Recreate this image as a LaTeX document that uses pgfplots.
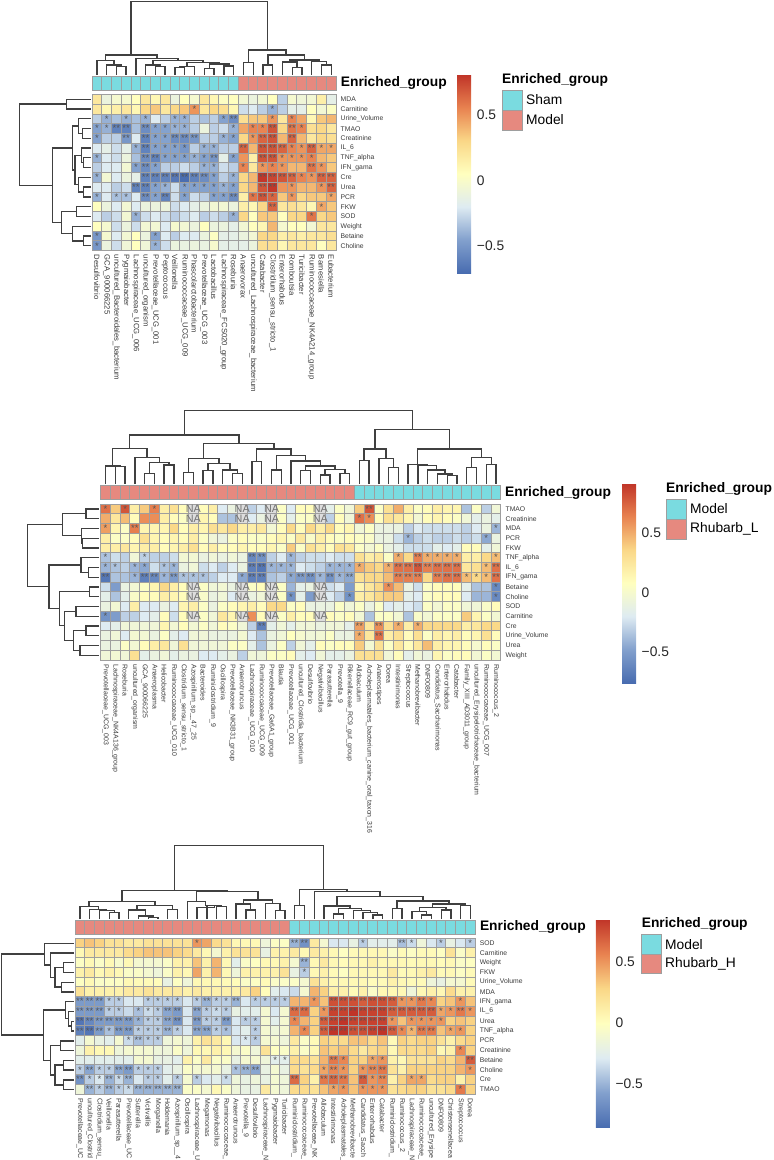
\documentclass[border=0pt]{standalone}
\usepackage{fontspec}
\setmainfont{Liberation Sans}
\usepackage{pgfplots}
\usepackage{pgfplotstable}
\pgfplotsset{compat=1.18}

\definecolor{cellgray}{HTML}{9E9E9E}
\definecolor{teal1}{HTML}{7ADBE0}
\definecolor{salmon1}{HTML}{E6897F}
\definecolor{nagray}{HTML}{DDDDDD}
\definecolor{dendcol}{HTML}{404040}
\definecolor{labcol}{HTML}{3A3A3A}
\definecolor{starcol}{HTML}{555555}

\pgfdeclareplotmark{cell}{\pgfpathrectangle{\pgfpoint{-4.88pt}{-4.88pt}}{\pgfpoint{9.76pt}{9.76pt}}\pgfusepathqfillstroke}
\pgfdeclareplotmark{annot}{\pgfpathrectangle{\pgfpoint{-4.88pt}{-7pt}}{\pgfpoint{9.76pt}{14pt}}\pgfusepathqfillstroke}

\pgfplotsset{
  colormap={rdylbu}{rgb255=(72,108,176) rgb255=(130,160,205) rgb255=(222,235,242)
    rgb255=(255,255,191) rgb255=(250,215,135) rgb255=(232,130,80) rgb255=(192,52,40)},
  heat/.style n args={4}{scale only axis, clip=false, at={(#1pt,-#2pt)}, anchor=north west,
    width=#3pt, height=156.2pt, xmin=-.5, xmax=#4, ymin=-.5, ymax=15.5, y dir=reverse,
    axis line style={draw=none}, major tick length=0pt, ytick={0,...,15}, yticklabel pos=right,
    x tick label style={rotate=-90, anchor=west, inner sep=0pt, text=labcol},
    y tick label style={anchor=west, inner sep=0pt, font=\fontsize{6.8}{7}\selectfont, text=labcol},
    xticklabel shift=4pt, yticklabel shift=4.5pt,
    point meta=explicit, colorbar},
  cb/.style n args={5}{point meta min=#1, point meta max=#2,
    colorbar style={at={(parent axis.north west)}, anchor=north west, xshift=#3pt, yshift=#4pt,
      scale only axis, width=14pt, height=#5pt, axis line style={draw=none}, major tick length=0pt,
      y dir=normal, ytick={-.5,0,.5}, yticklabels={−0.5,0,0.5}, yticklabel pos=right,
      yticklabel shift=5.5pt,
      y tick label style={anchor=west, inner sep=0pt, font=\fontsize{13.8}{14}\selectfont, text=black!85}}},
  cellplot/.style={scatter, only marks, mark=cell, scatter src=explicit,
    scatter/use mapped color={draw=cellgray, fill=mapped color}, mark options={line width=1pt}, forget plot},
  star1/.style={only marks, mark=text, text mark={*}, text mark as node=true,
    text mark style={font=\fontsize{9.5}{10}\selectfont, text=starcol, inner sep=0pt}, forget plot},
  star2/.style={only marks, mark=text, text mark={**}, text mark as node=true,
    text mark style={font=\fontsize{9.5}{10}\selectfont, text=starcol, inner sep=0pt}, forget plot},
  crop/.style 2 args={hide axis, scale only axis, clip=false, at={(#1pt,-#2pt)}, anchor=north west,
    width=600pt, height=300pt, xmin=0, xmax=1800, ymin=0, ymax=900, y dir=reverse},
  dend/.style={draw=dendcol, line width=1.05pt, no marks, sharp plot, forget plot},
}
\newcommand\cells[2]{\pgfplotsinvokeforeach{0,...,#2}{\addplot[cellplot] table[x expr=##1,y expr=\coordindex,meta index=##1]{#1};}}
\newcommand\annot[4]{\pgfplotsinvokeforeach{#1,...,#2}{\addplot[only marks,mark=annot,mark options={draw=cellgray,fill=#3,line width=1pt},forget plot] coordinates {(##1,#4)};}}
\newcommand\U[5]{\addplot[dend] coordinates {(#1,#2)(#1,#5)(#3,#5)(#3,#4)};}
\newcommand\R[5]{\addplot[dend] coordinates {(#2,#1)(#5,#1)(#5,#3)(#4,#3)};}

\pgfplotstableread[header=false]{
.2 -.1 -.03 -.03 .05 .2 .1 .2 -.1 .05 -.03 .2 .1 .03 .05 -.05 -.1 -.05 .05 -.3 -.03 -.07 -.05 .15 -.15
.2 .1 .15 .2 .1 .3 .35 .2 .3 .35 .5 .2 .3 .25 .1 -.25 -.2 -.3 -.4 -.3 -.15 -.15 .05 -.05 .03
-.3 -.4 -.35 -.4 -.35 -.4 -.2 -.3 -.4 -.4 -.3 -.35 -.3 -.45 -.55 .25 .35 .35 .5 .2 .55 .45 .1 .35 .4
-.45 -.4 -.6 -.6 -.35 -.55 -.45 -.45 -.4 -.4 -.3 -.1 -.3 -.25 -.4 .45 .55 .55 .7 .3 .6 .55 .25 .3 .2
-.45 -.3 -.3 -.5 -.2 -.6 -.45 -.45 -.55 -.55 -.5 -.3 -.3 -.4 -.45 .3 .5 .65 .7 .4 .65 .4 .2 .3 .25
-.2 -.15 -.25 -.15 -.4 -.6 -.45 -.45 -.45 -.5 -.3 -.4 -.4 -.3 -.3 .65 .4 .7 .7 .65 .55 .5 .65 .45 .45
-.4 -.2 -.25 -.1 -.35 -.55 -.6 -.45 -.45 -.45 -.4 -.45 -.5 -.15 -.45 .5 .15 .7 .7 .5 .5 .5 .55 .4 .35
-.3 -.2 -.2 -.05 -.45 -.55 -.45 -.3 -.3 -.25 -.3 -.4 -.4 -.25 -.3 .55 .2 .5 .55 .5 .4 .4 .6 .5 .35
-.4 -.05 -.2 -.1 -.15 -.6 -.6 -.6 -.65 -.7 -.6 -.55 -.45 -.3 -.4 .3 .4 .8 .75 .7 .65 .55 .5 .65 .65
-.2 -.2 -.3 -.25 -.6 -.6 -.45 -.4 -.25 -.45 -.45 -.45 -.45 -.4 -.45 .3 .4 .7 .8 .5 .5 .4 .4 .5 .65
-.4 -.2 -.35 -.35 -.2 -.55 -.45 -.6 -.25 -.45 -.25 -.3 -.45 -.45 -.55 .15 .6 .7 .65 .35 .5 .3 .35 .35 .45
.05 -.1 -.2 -.05 -.2 -.1 -.1 -.1 -.25 -.2 -.15 -.1 -.05 -.05 -.1 .15 .1 .3 .65 .2 .25 .2 .1 .45 .35
-.2 -.3 -.25 -.05 -.4 -.25 -.2 -.25 -.3 -.25 -.2 -.3 -.25 -.3 -.4 .3 .05 .35 .35 .05 .3 .3 .6 .3 .35
.05 -.03 -.25 -.1 -.25 -.05 -.05 -.2 -.02 -.05 -.1 .05 -.1 -.1 -.15 -.05 .05 .1 .4 -.03 .05 .05 -.05 .2 .2
-.5 -.03 -.2 -.05 .05 -.1 -.45 -.2 -.3 -.2 -.2 -.1 .03 -.15 -.15 -.1 -.05 .3 .3 .15 .2 .15 .2 .2 .25
-.5 -.1 -.25 -.07 .05 -.07 -.4 -.25 -.1 -.12 -.1 -.12 -.02 -.15 -.15 -.15 -.1 .25 .25 .1 .2 .2 .2 .05 .2
}\topdata

\pgfplotstableread[header=false]{
.7 .4 .8 .2 .4 .65 .2 .3 .1 nan .1 .2 -.2 -.1 nan -.3 -.2 nan .05 -.2 .1 .1 nan -.15 .05 -.05 .4 .8 .05 .3 .5 .2 .05 .1 .2 .15 .15 -.35 .05 -.3 -.05
.5 .25 .45 .1 .6 .6 .2 .1 .05 nan .15 .1 -.35 -.35 nan -.2 -.1 nan .05 -.15 .05 .05 nan -.3 .1 -.05 .7 .6 .1 .3 .25 .15 -.03 .1 .15 .1 .05 -.05 -.15 -.1 -.15
.55 .15 .05 .65 .15 .15 .15 .35 .1 .2 .15 .3 .25 .35 .2 .2 .25 -.03 .1 .35 .1 .35 .2 .35 .1 .15 -.05 .05 -.1 -.1 -.1 -.3 -.2 -.25 -.25 -.25 -.25 -.3 -.2 -.1 -.4
.2 .05 .05 .1 .3 .15 .1 .15 .1 .2 .05 -.05 -.1 .05 .1 .05 .05 .1 .15 .05 .25 .03 .2 .1 .05 .1 .05 .03 -.1 -.1 -.25 -.4 -.3 -.25 -.3 -.3 -.25 -.3 -.25 -.45 -.1
.2 .2 .25 .15 .2 .2 .1 .15 .2 .3 .1 .2 .1 .1 .15 .1 .1 .15 .05 .4 .05 .3 .2 .1 .3 .25 .05 -.03 .05 -.1 -.15 -.25 -.25 -.25 -.15 -.2 -.15 .1 .1 -.15 -.05
-.35 -.25 -.3 -.05 -.3 -.3 -.3 -.25 -.03 -.03 -.1 -.05 -.1 -.05 -.1 -.6 -.55 -.3 -.2 -.4 -.3 -.25 -.25 -.2 -.25 -.25 .3 .2 .25 .05 .5 .35 .65 .5 .5 .5 .5 .2 .2 .35 .45
-.4 -.35 -.3 -.4 -.45 -.25 -.35 -.4 -.1 -.05 -.25 -.2 -.3 -.2 -.1 -.65 -.7 -.4 -.4 -.4 -.2 -.25 -.3 -.4 -.4 -.4 .5 .4 .35 .5 .7 .7 .8 .65 .7 .7 .7 .25 .3 .45 .7
-.7 -.35 -.35 -.4 -.65 -.6 -.4 -.5 -.35 -.35 -.35 -.3 -.2 -.2 -.45 -.65 -.65 -.35 -.3 -.45 -.5 -.55 -.4 -.55 -.4 -.45 .3 .35 .35 .45 .65 .65 .65 .35 .65 .7 .7 .45 .35 .45 .7
-.25 -.5 -.1 -.03 .05 .15 .35 .2 .1 nan .05 -.05 -.03 -.1 nan .05 .1 nan .05 -.4 -.15 -.1 nan -.25 -.2 -.5 .15 .25 .35 .6 .45 -.1 -.25 .05 .1 .1 .1 -.15 -.35 -.35 -.6
-.15 -.35 -.15 .03 .1 .1 .2 .15 .1 nan .02 -.1 -.05 -.2 nan -.1 -.05 nan .05 -.55 -.15 -.5 nan -.2 -.3 -.55 .2 .25 .35 .4 .4 -.15 -.2 .05 .1 .1 .1 -.2 -.4 -.4 -.6
-.1 -.03 -.2 .2 -.2 -.2 -.1 -.2 .15 .2 .05 -.1 .05 .1 .15 .2 .1 .35 .35 .05 .1 -.1 -.1 -.1 .05 -.05 .05 -.1 .05 -.2 -.15 -.2 -.25 .05 -.03 .05 .05 -.05 -.05 .03 .1
-.55 -.5 -.3 -.3 -.2 -.15 .1 -.25 .1 nan .05 -.05 .25 .15 nan .6 .1 nan .05 .2 .1 .1 nan .1 .05 .1 -.03 -.35 .05 .05 -.03 -.35 .03 -.03 .05 .05 .05 .4 .15 .05 -.03
-.2 -.15 -.05 -.05 -.05 -.05 .15 -.03 .1 -.03 .05 -.05 .1 .05 -.05 -.3 -.65 -.15 -.05 -.15 -.05 -.05 -.1 -.05 -.05 -.15 .55 .25 .6 .3 .5 .2 .5 .35 .35 .35 .35 .2 .25 .35 .35
-.1 -.05 -.2 -.02 -.03 -.1 .05 -.15 -.2 -.05 -.05 -.1 -.1 -.1 -.02 -.2 -.35 -.1 -.05 .08 0 -.05 -.03 .05 -.1 -.1 .5 .25 .7 .2 .3 .1 .3 .05 .2 .15 .2 .1 .15 .3 .1
-.1 -.1 .05 -.03 .1 .2 .25 -.05 .3 -.05 -.05 -.05 -.05 .05 .05 -.15 -.35 -.1 .05 -.3 -.05 -.15 .1 .05 .1 .1 .4 -.02 .3 .05 .25 .1 .25 .45 .2 .15 .15 .1 0 .1 .05
-.05 -.03 -.05 .3 -.15 -.1 -.05 -.15 -.1 -.1 -.2 -.2 -.15 -.1 -.3 -.05 -.07 .05 .05 .1 -.15 -.2 -.05 -.15 -.15 -.1 .3 .3 .3 -.05 .1 -.15 -.05 -.1 .15 .05 .1 .1 -.03 .05 -.03
}\middata

\pgfplotstableread[header=false]{
.3 .35 .3 .2 .2 .15 .15 .2 .2 .2 .2 .2 .5 .45 .25 .2 .05 .05 .05 -.15 -.03 -.03 -.5 -.65 .15 -.1 -.3 -.3 -.2 -.4 -.25 -.25 -.25 -.45 -.35 -.15 -.3 -.4 -.2 -.3 -.4
.05 .15 .15 .15 .15 .25 .3 .35 .35 .35 .3 .25 .15 .05 -.1 .1 .2 .2 .2 -.2 .1 .1 .15 .05 .15 .1 .05 -.02 .03 .05 .05 .05 -.05 .03 -.03 .03 .03 -.02 .2 -.05 .1
-.03 .05 -.05 .05 -.08 .05 -.1 -.1 -.1 -.05 .1 .1 .35 .1 .4 .05 -.25 -.05 -.02 .05 .05 .1 -.1 -.5 .05 .15 .05 .02 .05 .05 .1 .05 .05 .05 .03 .05 .05 .02 .05 -.05 -.02
.1 .15 .05 .1 .05 -.05 -.05 -.1 -.15 -.05 .1 .05 .45 .1 .4 .05 -.15 .1 .1 .1 .1 .2 -.2 -.4 .05 .1 .03 -.02 .05 .05 .05 .05 .15 .03 .05 .1 .15 .03 .05 -.03 .03
-.02 .05 -.05 -.03 -.03 .05 .03 .03 .02 -.2 -.02 -.15 .05 .05 .05 .03 .02 -.05 -.03 .03 -.05 -.05 -.05 -.1 .2 .1 .05 .05 .05 .05 .02 .03 .1 .05 .03 .03 -.15 -.2 -.1 -.1 .03
.2 .1 .1 .1 .1 .15 .15 .2 .15 .15 .15 .1 .15 .1 .1 .1 .1 .15 .3 .02 -.25 -.3 -.35 -.1 .4 .3 .1 .1 .03 .1 -.05 .05 .05 .05 -.15 .05 .1 .05 .25 .1 .1
-.6 -.6 -.6 -.4 -.4 -.3 -.3 -.4 -.4 -.4 -.4 -.3 -.4 -.5 -.4 -.4 -.5 -.3 -.4 -.4 -.4 -.4 .4 .4 .5 .35 .75 .75 .75 .7 .75 .75 .7 .5 .5 .6 .55 .3 .35 .5 .35
-.6 -.6 -.6 -.4 -.4 -.35 -.45 -.35 -.4 -.55 -.6 -.3 -.55 -.4 -.35 -.4 -.2 -.25 -.25 -.1 -.3 -.1 .65 .65 .3 .5 .8 .8 .85 .8 .8 .8 .7 .7 .7 .7 .7 .45 .5 .6 .5
-.8 -.7 -.6 -.6 -.6 -.6 -.5 -.4 -.4 -.55 -.65 -.3 -.6 -.4 -.4 -.6 -.3 -.4 -.4 -.1 -.25 -.1 .55 .4 .3 .7 .8 .85 .8 .8 .8 .8 .5 .35 .5 .5 .5 .5 .3 .35 .3
-.75 -.8 -.6 -.45 -.6 -.6 -.4 -.4 -.4 -.5 -.4 -.3 -.55 -.55 -.4 -.45 -.3 -.25 -.4 -.1 -.15 -.1 .4 .55 .3 .7 .85 .85 .75 .75 .8 .85 .7 .55 .4 .6 .6 .35 .45 .5 .3
-.25 -.1 -.2 -.25 -.1 -.35 -.45 -.4 -.4 -.15 -.1 -.15 .1 .2 .15 .05 -.3 -.3 -.4 -.1 -.1 -.15 .15 -.05 .03 .3 .25 .25 .35 .35 .25 .35 .03 .3 .25 .3 .3 .2 .1 .25 .3
-.15 .1 .05 .05 -.15 -.1 -.1 -.1 -.15 -.15 -.05 -.15 .05 .05 .1 .05 -.1 -.05 -.15 .2 -.02 -.05 .1 -.05 .05 .35 .3 .35 .25 .15 .25 .3 .05 .25 .25 .25 .3 .05 .1 .55 .3
-.25 -.25 -.25 -.25 -.25 -.25 -.1 -.1 -.2 -.2 -.25 .1 -.05 .15 -.05 -.05 -.2 -.1 -.1 -.15 -.25 -.25 .25 .25 .2 .4 .6 .55 .3 .3 .45 .5 .1 .05 .2 .2 .2 .3 .25 .4 .7
-.4 -.55 -.4 -.4 -.55 -.6 -.4 -.4 -.4 -.25 -.2 -.05 -.1 -.1 -.1 -.2 -.45 -.5 -.55 -.2 -.1 -.2 .25 .2 .25 .45 .55 .5 .3 .5 .55 .6 .2 .1 .3 .3 .3 .3 .3 .4 .5
-.65 -.4 -.3 -.5 -.35 -.5 -.3 -.4 -.4 -.25 -.4 -.1 -.4 -.3 -.25 -.35 -.15 -.2 -.15 -.2 -.1 -.15 .65 .3 .1 .6 .65 .6 .35 .7 .5 .55 .1 .3 .45 .45 .25 .3 .3 .1 .3
-.15 -.5 -.4 -.5 -.4 -.35 -.5 -.5 -.5 -.5 -.5 -.05 -.05 -.1 .05 -.05 -.15 -.2 -.2 .15 -.1 -.15 .25 .25 .2 .35 .45 .5 .35 .5 .5 .5 .2 .25 .3 .3 .2 .2 .25 .6 .3
}\botdata

\newcommand\engroup{Enriched\_group}
\newcommand\bigb{\fontsize{13.8}{14}\bfseries\selectfont}
\newcommand\bign{\fontsize{13.8}{14}\selectfont}

\begin{document}
\begin{tikzpicture}
\path[use as bounding box] (0,0) rectangle (774pt,-1160pt);

% ---- top panel
\begin{axis}[heat={92}{94.5}{244}{24.5}, cb={-.71}{.81}{356.7}{19.8}{198.3},
  x tick label style={font=\fontsize{7.7}{8}\selectfont},
  xtick={0,...,24},
  xticklabels={Desulfovibrio,GCA\_900066225,uncultured\_Bacteroidales\_bacterium,Pygmaiobacter,Lachnospiraceae\_UCG\_006,uncultured\_organism,Prevotellaceae\_UCG\_001,Peptococcus,Veillonella,Ruminococcaceae\_UCG\_009,Phascolarctobacterium,Prevotellaceae\_UCG\_003,Lactobacillus,Lachnospiraceae\_FCS020\_group,Roseburia,Anaerovorax,uncultured\_Lachnospiraceae\_bacterium,Catabacter,Clostridium\_sensu\_stricto\_1,Enterorhabdus,Romboutsia,Turicibacter,Ruminococcaceae\_NK4A214\_group,Barnesiella,Eubacterium},
  yticklabels={MDA,Carnitine,Urine\_Volume,TMAO,Creatinine,IL\_6,TNF\_alpha,IFN\_gama,Cre,Urea,PCR,FKW,SOD,Weight,Betaine,Choline}]
\annot{0}{14}{teal1}{-1.65}
\annot{15}{24}{salmon1}{-1.65}
\cells{\topdata}{24}
\addplot[star1] coordinates {(10,1)(18,1)(1,2)(3,2)(5,2)(8,2)(9,2)(13,2)(18,2)(20,2)
 (0,3)(1,3)(6,3)(7,3)(8,3)(9,3)(14,3)(16,3)(17,3)(21,3)
 (0,4)(6,4)(7,4)(13,4)(14,4)(16,4)
 (4,5)(6,5)(7,5)(8,5)(9,5)(11,5)(12,5)(20,5)(21,5)(23,5)(24,5)
 (0,6)(7,6)(8,6)(9,6)(10,6)(11,6)(14,6)(19,6)(20,6)(21,6)(22,6)
 (4,7)(6,7)(11,7)(12,7)(15,7)(17,7)(18,7)(19,7)(23,7)
 (0,8)(12,8)(14,8)(21,8)(22,8)
 (6,9)(7,9)(9,9)(10,9)(11,9)(12,9)(13,9)(14,9)(20,9)(23,9)
 (0,10)(2,10)(3,10)(6,10)(9,10)(12,10)(13,10)(16,10)(18,10)(20,10)(24,10)
 (23,11)(4,12)(14,12)(22,12)(0,14)(6,14)(0,15)(6,15)};
\addplot[star2] coordinates {(14,2)(2,3)(3,3)(5,3)(18,3)(20,3)
 (3,4)(5,4)(8,4)(9,4)(10,4)(17,4)(18,4)(20,4)
 (5,5)(15,5)(17,5)(18,5)(19,5)(22,5)
 (5,6)(6,6)(12,6)(17,6)(18,6)(5,7)(22,7)
 (5,8)(6,8)(7,8)(8,8)(9,8)(10,8)(11,8)(17,8)(18,8)(19,8)(20,8)(23,8)(24,8)
 (4,9)(5,9)(17,9)(18,9)(24,9)(5,10)(7,10)(14,10)(17,10)(18,11)};
\end{axis}

\begin{axis}[crop={0}{0}]
\U{393}{165}{802}{150}{5}
\U{349}{224}{378}{224}{200}\U{320}{224}{364}{200}{195}\U{291}{224}{342}{195}{182}
\U{466}{224}{495}{224}{200}\U{437}{224}{481}{200}{195}
\U{525}{224}{554}{224}{203}\U{540}{203}{583}{224}{200}
\U{613}{224}{642}{224}{205}\U{672}{224}{701}{224}{198}\U{628}{205}{687}{198}{192}
\U{561}{200}{657}{192}{187}\U{459}{195}{609}{187}{182}\U{408}{224}{534}{182}{175}\U{316}{182}{471}{175}{165}
\U{730}{224}{760}{224}{188}\U{789}{224}{818}{224}{195}
\U{877}{224}{906}{224}{202}\U{848}{224}{891}{202}{186}
\U{965}{224}{994}{224}{195}\U{935}{224}{980}{195}{185}
\U{870}{186}{957}{185}{180}\U{804}{195}{913}{180}{165}\U{745}{188}{858}{165}{150}
\R{298}{273}{327}{273}{200}
\R{386}{273}{415}{273}{247}\R{356}{273}{400}{247}{235}
\R{473}{273}{503}{273}{250}\R{444}{273}{488}{250}{245}
\R{561}{273}{591}{273}{250}\R{532}{273}{576}{250}{235}
\R{466}{245}{554}{235}{225}\R{378}{235}{510}{225}{218}
\R{620}{273}{649}{273}{230}\R{708}{273}{737}{273}{250}\R{679}{273}{723}{250}{218}
\R{635}{230}{701}{218}{185}\R{444}{218}{668}{185}{157}\R{312}{200}{556}{157}{58}
\end{axis}
\node[anchor=west,font=\bigb,inner sep=0pt] at (340.7pt,-83.3pt) {\engroup};
\node[anchor=west,font=\bigb,inner sep=0pt] at (502pt,-80pt) {\engroup};
\draw[cellgray,line width=1pt,fill=teal1] (502pt,-90pt) rectangle (522pt,-110pt);
\draw[cellgray,line width=1pt,fill=salmon1] (502pt,-110pt) rectangle (522pt,-130pt);
\node[anchor=west,font=\bign,inner sep=0pt] at (526pt,-100pt) {Sham};
\node[anchor=west,font=\bign,inner sep=0pt] at (526pt,-120pt) {Model};

% ---- middle panel
\begin{axis}[heat={100.7}{504}{400.2}{40.5}, cb={-.76}{.92}{512.8}{20.7}{199.7},
  x tick label style={font=\fontsize{6.95}{7}\selectfont},
  xtick={0,...,40},
  xticklabels={Prevotellaceae\_UCG\_003,Lachnospiraceae\_NK4A136\_group,Roseburia,uncultured\_organism,GCA\_900066225,Anaeroplasma,Helicobacter,Ruminococcaceae\_UCG\_010,Clostridium\_sensu\_stricto\_1,Azospirillum\_sp\_\_47\_25,Bacteroides,Ruminiclostridium\_9,Oscillospira,Prevotellaceae\_NK3B31\_group,Anaerotruncus,Lachnospiraceae\_UCG\_010,Ruminococcaceae\_UCG\_009,Prevotellaceae\_Ga6A1\_group,Blautia,Prevotellaceae\_UCG\_001,uncultured\_Clostridia\_bacterium,Desulfovibrio,Negativibacillus,Parasutterella,Prevotella\_9,Rikenellaceae\_RC9\_gut\_group,Allobaculum,Acholeplasmatales\_bacterium\_canine\_oral\_taxon\_316,Anaerostipes,Dorea,Intestinimonas,Streptococcus,Methanobrevibacter,DNF00809,Candidatus\_Saccharimonas,Enterorhabdus,Catabacter,Family\_XIII\_AD3011\_group,uncultured\_Erysipelotrichaceae\_bacterium,Ruminococcaceae\_UCG\_007,Ruminococcus\_2},
  yticklabels={TMAO,Creatinine,MDA,PCR,FKW,TNF\_alpha,IL\_6,IFN\_gama,Betaine,Choline,SOD,Carnitine,Cre,Urine\_Volume,Urea,Weight}]
\annot{0}{25}{salmon1}{-1.71}
\annot{26}{40}{teal1}{-1.71}
\cells{\middata}{40}
\addplot[only marks,mark=cell,mark options={draw=cellgray,fill=nagray,line width=1pt},forget plot] coordinates {
 (9,0)(14,0)(17,0)(22,0)(9,1)(14,1)(17,1)(22,1)(9,8)(14,8)(17,8)(22,8)(9,9)(14,9)(17,9)(22,9)(9,11)(14,11)(17,11)(22,11)};
\addplot[only marks,mark=text,text mark={NA},text mark as node=true,
  text mark style={font=\fontsize{10.8}{11}\selectfont,text=black!55,inner sep=0pt},forget plot] coordinates {
 (9,0)(14,0)(17,0)(22,0)(9,1)(14,1)(17,1)(22,1)(9,8)(14,8)(17,8)(22,8)(9,9)(14,9)(17,9)(22,9)(9,11)(14,11)(17,11)(22,11)};
\addplot[star1] coordinates {(0,0)(2,0)(5,0)(26,1)(27,1)(0,2)(40,2)(31,3)(39,3)
 (0,5)(4,5)(19,5)(30,5)(33,5)(34,5)(35,5)(36,5)(40,5)
 (0,6)(1,6)(3,6)(4,6)(6,6)(7,6)(17,6)(18,6)(19,6)(23,6)(24,6)(25,6)(26,6)(29,6)(39,6)
 (3,7)(6,7)(8,7)(9,7)(10,7)(14,7)(19,7)(22,7)(24,7)(37,7)(38,7)(39,7)
 (29,8)(40,8)(19,9)(25,9)(40,9)(0,11)(30,12)(32,12)(26,13)};
\addplot[star2] coordinates {(27,0)(3,2)(15,5)(16,5)(32,5)
 (15,6)(16,6)(30,6)(31,6)(32,6)(33,6)(34,6)(35,6)(36,6)(40,6)
 (0,7)(4,7)(5,7)(7,7)(15,7)(16,7)(20,7)(21,7)(23,7)(25,7)(30,7)(31,7)(32,7)(34,7)(35,7)(36,7)(40,7)
 (16,12)(26,12)(28,12)(28,13)};
\end{axis}

\begin{axis}[crop={0}{405}]
\U{553}{90}{1237}{73}{17}
\U{346}{237}{375}{237}{185}\U{317}{237}{360}{185}{183}
\U{434}{237}{463}{237}{205}\U{492}{237}{522}{237}{180}\U{449}{205}{507}{180}{173}\U{405}{237}{478}{173}{158}
\U{338}{183}{441}{158}{130}
\U{551}{237}{580}{237}{203}\U{609}{237}{639}{237}{197}\U{697}{237}{727}{237}{205}\U{668}{237}{712}{205}{195}
\U{624}{197}{690}{195}{175}\U{565}{203}{657}{175}{160}
\U{756}{237}{785}{237}{170}\U{814}{237}{844}{237}{195}\U{902}{237}{932}{237}{197}
\U{961}{237}{990}{237}{210}\U{1020}{237}{1049}{237}{205}\U{975}{210}{1035}{205}{193}\U{917}{197}{1005}{193}{183}
\U{873}{237}{961}{183}{168}\U{829}{195}{917}{168}{152}\U{770}{170}{873}{152}{132}\U{611}{160}{822}{132}{115}\U{389}{130}{717}{115}{90}
\U{1078}{237}{1107}{237}{167}\U{1166}{237}{1195}{237}{187}\U{1137}{237}{1180}{187}{160}\U{1092}{167}{1158}{160}{132}
\U{1342}{237}{1371}{237}{212}\U{1312}{237}{1357}{212}{207}\U{1283}{237}{1335}{207}{195}\U{1254}{237}{1309}{195}{182}\U{1224}{237}{1281}{182}{178}
\U{1400}{237}{1430}{237}{188}\U{1459}{237}{1488}{237}{178}\U{1415}{188}{1474}{178}{158}
\U{1252}{178}{1445}{158}{132}\U{1125}{132}{1348}{132}{73}
\R{312}{297}{341}{297}{258}\R{400}{297}{429}{297}{248}\R{370}{297}{414}{248}{245}\R{326}{258}{392}{245}{188}
\R{487}{297}{517}{297}{266}\R{458}{297}{502}{266}{243}
\R{546}{297}{575}{297}{268}\R{605}{297}{634}{297}{228}\R{663}{297}{692}{297}{258}\R{722}{297}{751}{297}{240}
\R{677}{258}{736}{240}{221}\R{619}{228}{706}{221}{193}\R{560}{268}{662}{193}{178}\R{480}{243}{611}{178}{147}\R{359}{188}{545}{147}{83}
\end{axis}
\node[anchor=west,font=\bigb,inner sep=0pt] at (505pt,-492.5pt) {\engroup};
\node[anchor=west,font=\bigb,inner sep=0pt] at (666pt,-489.3pt) {\engroup};
\draw[cellgray,line width=1pt,fill=teal1] (666pt,-499pt) rectangle (686pt,-519pt);
\draw[cellgray,line width=1pt,fill=salmon1] (666pt,-519pt) rectangle (686pt,-539pt);
\node[anchor=west,font=\bign,inner sep=0pt] at (690pt,-509pt) {Model};
\node[anchor=west,font=\bign,inner sep=0pt] at (690pt,-529pt) {Rhubarb\_L};

% ---- bottom panel
\begin{axis}[heat={75}{938}{400.2}{40.5}, cb={-.857}{.85}{512.4}{19}{208.7},
  x tick label style={font=\fontsize{7}{7}\selectfont},
  xtick={0,...,40},
  xticklabels={Prevotellaceae\_UC,uncultured\_Clostrid,Clostridium\_sensu\_,Veillonella,Parasutterella,Prevotellaceae\_UC,Sutterella,Victivallis,Morganella,Holdemania,Azospirillum\_sp\_\_4,Oscillospira,Lachnospiraceae\_U,Megamonas,Negativibacillus,Ruminococcaceae\_,Anaerotruncus,Prevotella\_9,Desulfovibrio,Lachnospiraceae\_N,Pygmaiobacter,Turicibacter,Ruminiclostridium\_,Ruminococcaceae\_,Prevotellaceae\_NK,Allobaculum,Intestinimonas,Acholeplasmatales\_,Methanobrevibacte,Candidatus\_Sacch,Enterorhabdus,Catabacter,Ruminiclostridium\_,Ruminococcus\_2,Lachnospiraceae\_N,Ruminococcaceae\_,uncultured\_Erysipe,DNF00809,Christensenellacea,Streptococcus,Dorea},
  yticklabels={SOD,Carnitine,Weight,FKW,Urine\_Volume,MDA,IFN\_gama,IL\_6,Urea,TNF\_alpha,PCR,Creatinine,Betaine,Choline,Cre,TMAO}]
\annot{0}{21}{salmon1}{-1.6}
\annot{22}{40}{teal1}{-1.6}
\cells{\botdata}{40}
\addplot[star1] coordinates {(12,0)(29,0)(34,0)(37,0)(40,0)(23,3)
 (3,6)(4,6)(7,6)(8,6)(9,6)(10,6)(12,6)(14,6)(15,6)(18,6)(19,6)(20,6)(21,6)(24,6)(33,6)(34,6)(36,6)(39,6)
 (3,7)(4,7)(6,7)(7,7)(8,7)(13,7)(14,7)(15,7)(25,7)(37,7)(38,7)(40,7)
 (6,8)(7,8)(8,8)(13,8)(14,8)(17,8)(18,8)(22,8)(32,8)(34,8)(35,8)(36,8)(37,8)
 (3,9)(6,9)(7,9)(8,9)(10,9)(14,9)(15,9)(18,9)(23,9)(33,9)(34,9)(38,9)(39,9)
 (5,10)(7,10)(8,10)(17,10)(18,10)(39,11)
 (20,12)(21,12)(27,12)(30,12)(31,12)
 (0,13)(2,13)(3,13)(6,13)(7,13)(8,13)(16,13)(25,13)(27,13)(29,13)(40,13)
 (1,14)(2,14)(4,14)(7,14)(8,14)(10,14)(12,14)(15,14)(30,14)(34,14)(35,14)
 (2,15)(4,15)(5,15)(26,15)(27,15)(29,15)(30,15)(31,15)(39,15)};
\addplot[star2] coordinates {(22,0)(23,0)(33,0)(23,2)
 (0,6)(1,6)(2,6)(13,6)(16,6)(26,6)(27,6)(28,6)(29,6)(30,6)(31,6)(32,6)(35,6)
 (0,7)(1,7)(2,7)(9,7)(10,7)(12,7)(22,7)(23,7)(26,7)(27,7)(28,7)(29,7)(30,7)(31,7)(32,7)(33,7)(34,7)(35,7)(36,7)(39,7)
 (0,8)(1,8)(2,8)(3,8)(4,8)(5,8)(9,8)(10,8)(12,8)(15,8)(25,8)(26,8)(27,8)(28,8)(29,8)(30,8)(31,8)
 (0,9)(1,9)(2,9)(4,9)(5,9)(9,9)(12,9)(13,9)(25,9)(26,9)(27,9)(28,9)(29,9)(30,9)(31,9)(32,9)(35,9)(36,9)
 (6,10)(26,12)(40,12)
 (1,13)(4,13)(5,13)(17,13)(18,13)(26,13)(30,13)(31,13)
 (0,14)(3,14)(5,14)(22,14)(25,14)(26,14)(27,14)(29,14)(31,14)
 (1,15)(3,15)(6,15)(7,15)(8,15)(9,15)(10,15)};
\end{axis}

\begin{axis}[crop={0}{840}]
\U{524}{152}{970}{148}{17}
\U{328}{237}{357}{237}{218}\U{298}{237}{343}{218}{212}\U{269}{237}{320}{212}{208}\U{240}{237}{295}{208}{200}
\U{445}{237}{474}{237}{233}\U{415}{237}{459}{233}{228}\U{386}{237}{437}{228}{210}\U{503}{237}{533}{237}{208}\U{411}{210}{518}{208}{197}\U{267}{200}{465}{197}{185}
\U{650}{237}{679}{237}{200}\U{621}{237}{665}{200}{197}\U{591}{237}{643}{197}{202}\U{562}{237}{617}{197}{185}
\U{738}{237}{767}{237}{210}\U{708}{237}{752}{210}{192}\U{826}{237}{855}{237}{212}\U{796}{237}{840}{212}{190}
\U{730}{192}{818}{190}{180}\U{590}{185}{774}{180}{155}\U{366}{185}{682}{155}{152}
\U{884}{237}{914}{237}{197}
\U{1001}{237}{1031}{237}{222}\U{1119}{237}{1148}{237}{225}\U{1089}{237}{1133}{225}{218}\U{1060}{237}{1111}{218}{212}\U{1016}{222}{1085}{212}{205}\U{972}{237}{1050}{205}{198}
\U{1177}{237}{1206}{237}{205}\U{1265}{237}{1294}{237}{225}\U{1236}{237}{1280}{225}{215}\U{1324}{237}{1353}{237}{210}\U{1258}{215}{1338}{210}{203}\U{1382}{237}{1411}{237}{197}\U{1298}{203}{1396}{197}{192}
\U{1191}{205}{1347}{192}{183}\U{1011}{198}{1269}{183}{170}\U{943}{237}{1140}{170}{155}\U{899}{197}{1041}{155}{148}
\R{368}{222}{398}{222}{190}\R{427}{222}{456}{222}{185}\R{383}{190}{441}{185}{165}\R{339}{222}{412}{165}{152}\R{310}{222}{375}{152}{133}
\R{544}{222}{573}{222}{215}\R{515}{222}{558}{215}{205}\R{485}{222}{536}{205}{197}
\R{603}{222}{632}{222}{182}\R{661}{222}{690}{222}{190}\R{720}{222}{749}{222}{190}\R{675}{190}{735}{190}{165}\R{617}{182}{705}{165}{152}
\R{510}{197}{661}{152}{130}\R{342}{133}{585}{130}{5}
\end{axis}
\node[anchor=west,font=\bigb,inner sep=0pt] at (479.8pt,-927.3pt) {\engroup};
\node[anchor=west,font=\bigb,inner sep=0pt] at (641.6pt,-924.3pt) {\engroup};
\draw[cellgray,line width=1pt,fill=teal1] (641.6pt,-934pt) rectangle (661.4pt,-954pt);
\draw[cellgray,line width=1pt,fill=salmon1] (641.6pt,-954pt) rectangle (661.4pt,-973.5pt);
\node[anchor=west,font=\bign,inner sep=0pt] at (665pt,-944.3pt) {Model};
\node[anchor=west,font=\bign,inner sep=0pt] at (665pt,-964.3pt) {Rhubarb\_H};
\end{tikzpicture}
\end{document}
